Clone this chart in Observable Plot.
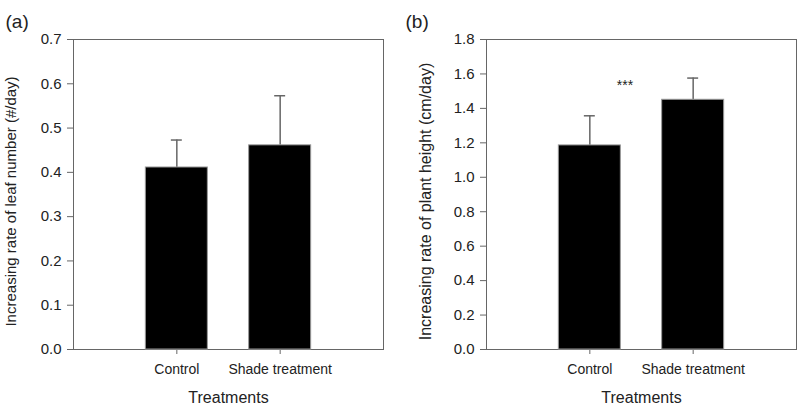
<!DOCTYPE html>
<html>
<head>
<meta charset="utf-8">
<script src="https://cdn.jsdelivr.net/npm/d3@7"></script>
<script src="https://cdn.jsdelivr.net/npm/@observablehq/plot@0.6"></script>
<style>
  html, body { margin: 0; padding: 0; background: #fff; }
  #wrap { display: flex; width: 800px; height: 410px; }
  svg { font-family: "Liberation Sans", Arial, sans-serif; }
</style>
</head>
<body>
<div id="wrap"></div>
<script>
// ---- data ----
const categories = ["Control", "Shade treatment"];
const leafMean = [0.411, 0.461];
const leafErr = [0.062, 0.112];
const heightMean = [1.185, 1.450];
const heightErr = [0.172, 0.126];
const leafTicks = [0, 0.1, 0.2, 0.3, 0.4, 0.5, 0.6, 0.7];
const heightTicks = [0, 0.2, 0.4, 0.6, 0.8, 1.0, 1.2, 1.4, 1.6, 1.8];
const panelLabels = ["(a)", "(b)"];
const yLabels = ["Increasing rate of leaf number (#/day)", "Increasing rate of plant height (cm/day)"];
const xLabel = "Treatments";
const sigMark = "***";
const sigPos = [{i: 1.34, y: 1.533}];

function panel({means, errs, ticks, ymax, panelLabel, yLabel, marginLeft, marginRight, yLabelDx, yLabelSize, sig}) {
  const data = categories.map((c, k) => ({i: k + 1, cat: c, mean: means[k], upper: means[k] + errs[k]}));
  const marks = [
    Plot.frame({stroke: "#666", strokeWidth: 1}),
    Plot.axisY({ticks, tickFormat: d => d.toFixed(1), tickSize: 6, tickPadding: 6, fontSize: 15, label: null, stroke: "#666", color: "#222"}),
    Plot.axisX({ticks: [1, 2], tickFormat: d => categories[d - 1], tickSize: 5, tickPadding: 10, fontSize: 14, label: null, stroke: "#666", color: "#222"}),
    Plot.ruleX(data, {x: "i", y1: "mean", y2: "upper", stroke: "#666", strokeWidth: 1.5}),
    Plot.ruleY(data, {y: "upper", x1: d => d.i - 0.053, x2: d => d.i + 0.053, stroke: "#666", strokeWidth: 1.5}),
    Plot.rectY(data, {x1: d => d.i - 0.3, x2: d => d.i + 0.3, y: "mean", fill: "#000", stroke: "#999", strokeWidth: 1}),
    Plot.text([yLabel], {frameAnchor: "left", text: d => d, textAnchor: "middle", rotate: -90, dx: yLabelDx, dy: 7, fontSize: yLabelSize, fill: "#222"}),
    Plot.text([xLabel], {frameAnchor: "bottom", text: d => d, textAnchor: "middle", dy: 53, fontSize: 16, fill: "#222"}),
    Plot.text([panelLabel], {frameAnchor: "top-left", text: d => d, textAnchor: "start", dx: -(marginLeft - 5), dy: -25, fontSize: 19, fill: "#222"})
  ];
  if (sig) marks.push(Plot.text(sig, {x: "i", y: "y", text: () => sigMark, fontSize: 14, fill: "#222"}));
  return Plot.plot({
    width: 400,
    height: 410,
    marginLeft, marginRight,
    marginTop: 39,
    marginBottom: 61,
    style: {fontFamily: '"Liberation Sans", Arial, sans-serif', background: "#fff"},
    x: {type: "linear", domain: [0, 3], axis: null},
    y: {domain: [0, ymax], axis: null},
    marks
  });
}

const wrap = document.getElementById("wrap");
wrap.appendChild(panel({means: leafMean, errs: leafErr, ticks: leafTicks, ymax: 0.7, panelLabel: panelLabels[0], yLabel: yLabels[0], marginLeft: 73, marginRight: 17, yLabelDx: -62, yLabelSize: 15, sig: null}));
wrap.appendChild(panel({means: heightMean, errs: heightErr, ticks: heightTicks, ymax: 1.8, panelLabel: panelLabels[1], yLabel: yLabels[1], marginLeft: 86, marginRight: 4, yLabelDx: -61, yLabelSize: 16, sig: sigPos}));
</script>
</body>
</html>
